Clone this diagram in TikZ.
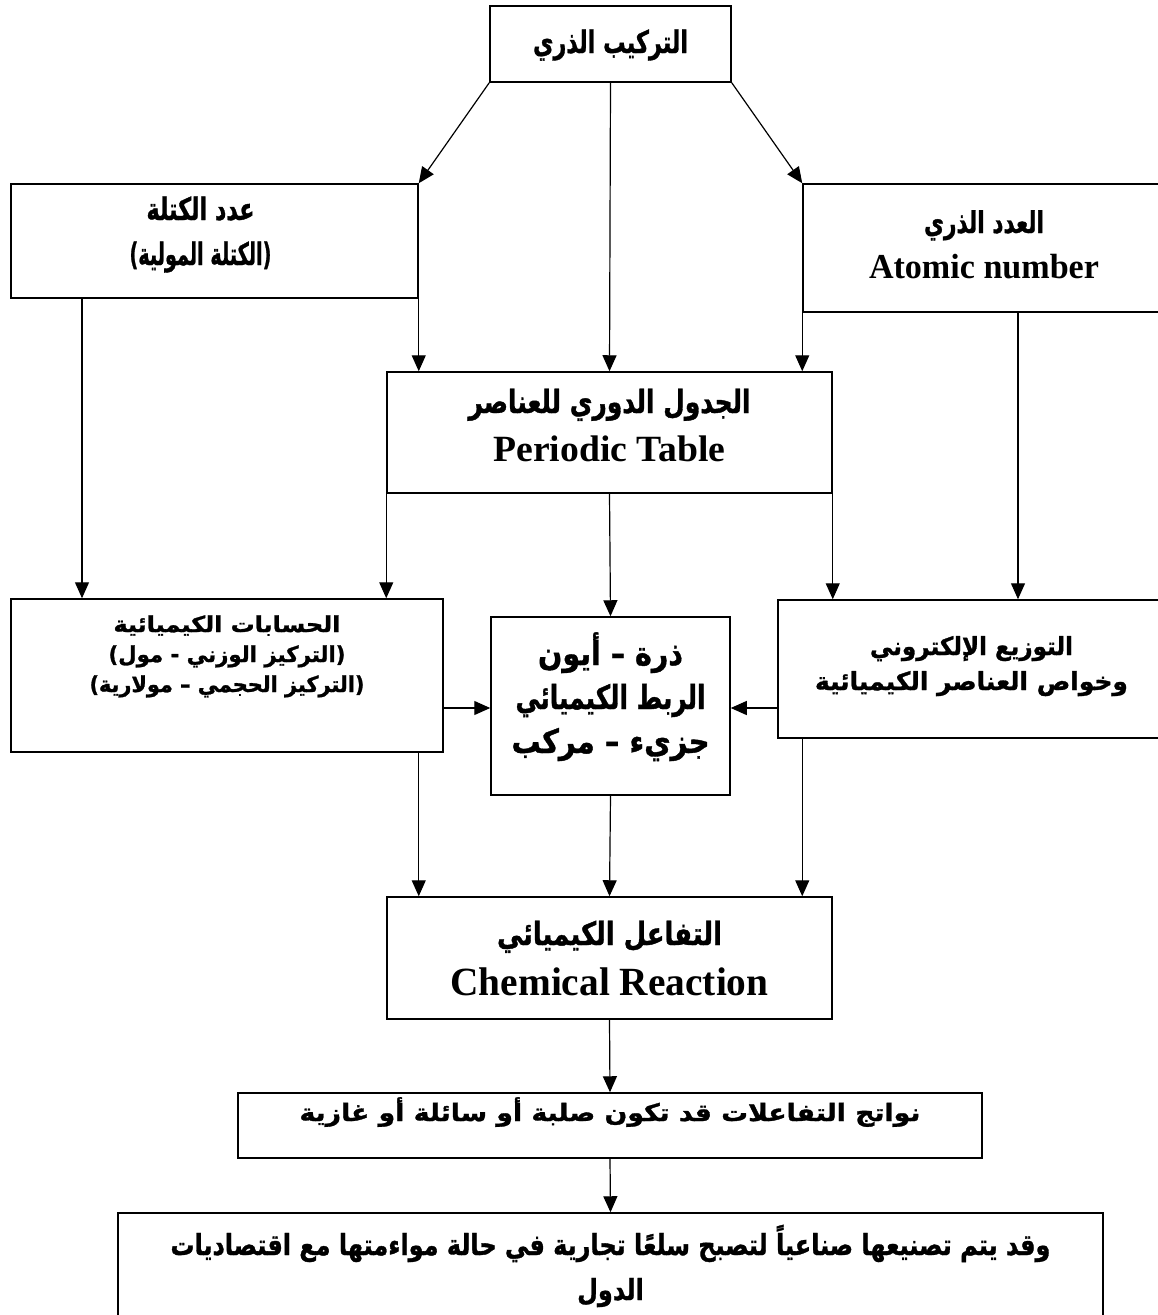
\documentclass[tikz,border=0pt]{standalone}
\usepackage{fontspec}
\usepackage{graphicx}
\usetikzlibrary{arrows.meta}
\TeXXeTstate=1
\newfontfamily\arabicfont[Script=Arabic,BoldFeatures={FakeBold=1.2}]{DejaVu Sans}
\newfontfamily\enfont{Liberation Serif}
\newcommand\AR[3]{{\fontsize{#1}{#1}\selectfont\arabicfont\bfseries\resizebox{#2pt}{\height}{\beginR #3\endR}}}
\newcommand\ARS[3]{{\fontsize{#1}{#1}\selectfont\arabicfont\bfseries\scalebox{#2}[1]{\beginR #3\endR}}}
\newcommand\EN[3]{{\fontsize{#1}{#1}\selectfont\enfont\bfseries\resizebox{#2pt}{\height}{#3}}}
\newcommand\setbl[1]{\lineskiplimit=-100pt\fontsize{10}{#1}\selectfont}
\newlength\arw
\begin{document}
\settowidth\arw{\fontsize{29}{29}\selectfont\arabicfont\bfseries\beginR وقد يتم تصنيعها صناعياً لتصبح سلعًا تجارية في حالة مواءمتها مع اقتصاديات\endR}%
\pgfmathsetmacro\finfac{880/\arw}%
\begin{tikzpicture}[x=1pt,y=-1pt,
  box/.style={draw,line width=1.5pt,inner sep=0pt,align=center,text depth=0pt},
  arr/.style={line width=1.2pt,-{Triangle[length=16pt,width=14pt]}}]
\fill[white] (0,0) rectangle (1158,1315);
\useasboundingbox (0,0) rectangle (1158,1315);

\node[box,minimum width=241pt,minimum height=76pt,text height=18pt] (top) at (610.5,44)
  {\AR{31}{155}{التركيب الذري}};

\node[box,minimum width=407pt,minimum height=114pt,text height=48pt,font=\setbl{45}] (mass) at (214.5,241)
  {\AR{31}{108}{عدد الكتلة}\kern28pt\\\AR{31}{142}{(الكتلة المولية)}\kern28pt};

\node[box,minimum width=362pt,minimum height=128pt,text height=60pt,font=\setbl{45}] (atomic) at (984,248)
  {\AR{30}{120}{العدد الذري}\\\EN{35}{230}{Atomic number}};

\node[box,minimum width=445pt,minimum height=121pt,text height=57pt,font=\setbl{48}] (pt) at (609.5,432.5)
  {\AR{32}{282}{الجدول الدوري للعناصر}\\\EN{37}{232}{Periodic Table}};

\node[box,minimum width=432pt,minimum height=153pt,text height=33pt,font=\setbl{30}] (calc) at (227,675.5)
  {\AR{22}{227}{الحسابات الكيميائية}\\\AR{22}{237}{(التركيز الوزني - مول)}\\\AR{22}{275}{(التركيز الحجمي – مولارية)}};

\node[box,minimum width=239pt,minimum height=178pt,text height=94pt,font=\setbl{44}] (mid) at (610.5,706)
  {\AR{33}{145}{ذرة – أيون}\\\AR{33}{190}{الربط الكيميائي}\\\AR{33}{198}{جزيء – مركب}};

\node[box,minimum width=387pt,minimum height=138pt,text height=42pt,font=\setbl{35}] (elec) at (971.5,669)
  {\AR{25}{203}{التوزيع الإلكتروني}\\\AR{25}{313}{وخواص العناصر الكيميائية}};

\node[box,minimum width=445pt,minimum height=122pt,text height=74pt,font=\setbl{50}] (react) at (609.5,958)
  {\AR{32}{225}{التفاعل الكيميائي}\\\EN{40}{318}{Chemical Reaction}};

\node[box,minimum width=744pt,minimum height=65pt,text height=0pt,text depth=9pt] (prod) at (610,1125.5)
  {\AR{24}{621}{نواتج التفاعلات قد تكون صلبة أو سائلة أو غازية}};

\node[box,minimum width=985pt,minimum height=112pt,text height=62pt,font=\setbl{45}] (final) at (610.5,1269)
  {\ARS{29}{\finfac}{وقد يتم تصنيعها صناعياً لتصبح سلعًا تجارية في حالة مواءمتها مع اقتصاديات}\\\ARS{29}{\finfac}{الدول}};

% connectors
\draw[arr] (top.south west) -- (mass.north east);
\draw[arr] (top.south east) -- (atomic.north west);
\draw[arr] (top.south) -- (pt.north);
\draw[arr] (mass.south -| 82,0) -- (calc.north -| 82,0);
\draw[arr] (mass.south east) -- (pt.north -| mass.south east);
\draw[arr] (atomic.south west) -- (pt.north -| atomic.south west);
\draw[arr] (atomic.south -| 1018,0) -- (elec.north -| 1018,0);
\draw[arr] (pt.south west) -- (calc.north -| pt.south west);
\draw[arr] (pt.south) -- (mid.north);
\draw[arr] (pt.south east) -- (elec.north -| pt.south east);
\draw[arr] (calc.east |- 0,708) -- (mid.west |- 0,708);
\draw[arr] (elec.west |- 0,708) -- (mid.east |- 0,708);
\draw[arr] (calc.south -| mass.south east) -- (react.north -| mass.south east);
\draw[arr] (mid.south) -- (react.north);
\draw[arr] (elec.south -| atomic.south west) -- (react.north -| atomic.south west);
\draw[arr] (react.south) -- (prod.north);
\draw[arr] (prod.south) -- (final.north);
\end{tikzpicture}
\end{document}
